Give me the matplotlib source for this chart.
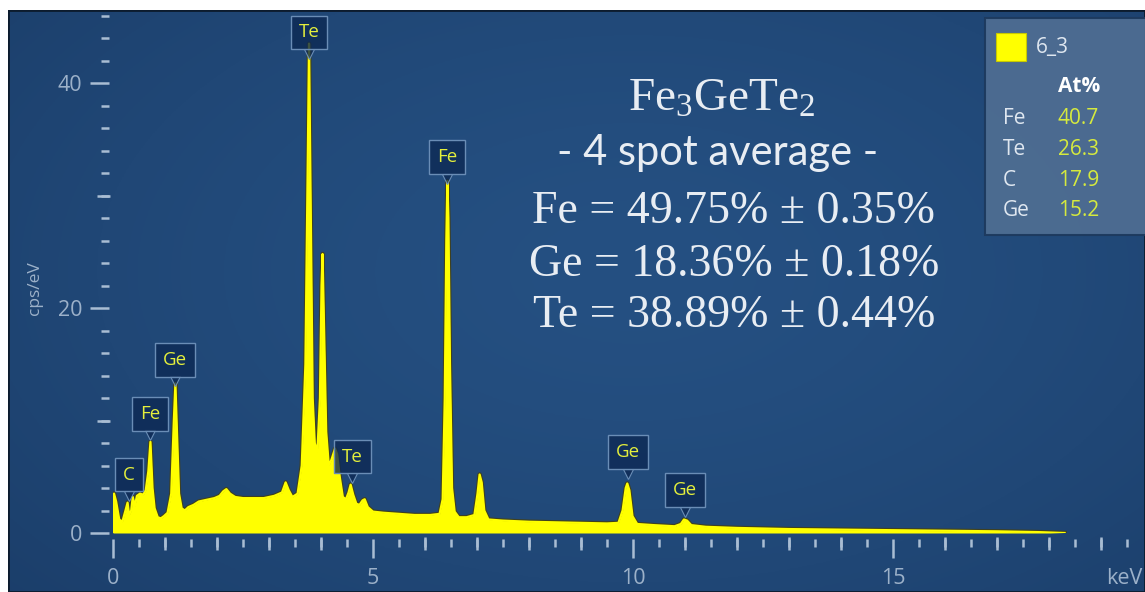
import numpy as np
import matplotlib
matplotlib.use("Agg")
import matplotlib.pyplot as plt
from matplotlib.patches import Rectangle
from matplotlib.ticker import MultipleLocator
from matplotlib.transforms import offset_copy

# ---------------- spectrum data (keV, cps/eV) ----------------
energy = [0.00, 0.02, 0.06, 0.12, 0.18, 0.24, 0.28, 0.31, 0.35, 0.38, 0.42, 0.46,
          0.52, 0.58, 0.63, 0.68, 0.72, 0.76, 0.80, 0.86, 0.92, 0.98, 1.05, 1.12,
          1.17, 1.20, 1.23, 1.27, 1.32, 1.38, 1.45, 1.55, 1.65, 1.75, 1.85, 1.95,
          2.05, 2.12, 2.18, 2.25, 2.35, 2.50, 2.70, 2.90, 3.10, 3.25, 3.32, 3.38,
          3.45, 3.55, 3.63, 3.70, 3.75, 3.77, 3.80, 3.84, 3.88, 3.93, 3.98, 4.01,
          4.03, 4.06, 4.10, 4.15, 4.20, 4.27, 4.31, 4.36, 4.42, 4.48, 4.53, 4.57,
          4.62, 4.68, 4.74, 4.80, 4.84, 4.90, 5.00, 5.20, 5.50, 5.80, 6.10, 6.28,
          6.34, 6.38, 6.41, 6.43, 6.45, 6.48, 6.52, 6.57, 6.65, 6.80, 6.95, 7.01,
          7.05, 7.09, 7.14, 7.22, 7.50, 8.00, 8.50, 9.00, 9.50, 9.72, 9.80, 9.86,
          9.89, 9.93, 9.99, 10.08, 10.40, 10.80, 10.92, 10.98, 11.04, 11.12, 11.40,
          12.00, 13.00, 14.00, 15.00, 16.00, 17.00, 17.80, 18.30]
counts = [0.0, 3.5, 2.8, 1.2, 1.0, 2.0, 2.7, 1.6, 2.0, 3.2, 2.4, 3.3,
          3.5, 3.4, 3.8, 5.5, 8.1, 4.0, 2.2, 1.4, 1.3, 1.5, 1.8, 3.5,
          10.0, 13.3, 9.0, 3.5, 2.2, 2.0, 2.3, 2.5, 2.8, 2.9, 3.0, 3.1,
          3.3, 3.7, 3.9, 3.5, 3.2, 3.1, 3.1, 3.1, 3.3, 3.6, 4.5, 3.8,
          3.2, 3.5, 6.0, 15.0, 35.0, 43.5, 30.0, 12.0, 8.0, 7.2, 12.0, 22.0,
          24.8, 18.0, 9.0, 6.0, 6.5, 7.5, 7.0, 5.0, 3.2, 3.0, 3.6, 4.3,
          3.4, 2.6, 2.5, 2.9, 3.0, 2.3, 1.9, 1.8, 1.7, 1.6, 1.6, 1.7,
          3.0, 12.0, 26.0, 31.3, 28.0, 15.0, 4.0, 1.9, 1.4, 1.4, 1.6, 3.5,
          5.2, 4.5, 2.0, 1.2, 1.1, 1.0, 0.95, 0.9, 0.85, 0.9, 2.0, 4.0,
          4.4, 3.8, 1.5, 0.8, 0.7, 0.6, 0.8, 1.2, 1.1, 0.7, 0.55,
          0.45, 0.35, 0.3, 0.25, 0.2, 0.15, 0.08, 0.0]

# peak markers: element, label x (keV), label centre height (cps/eV)
peak_elements = ["C", "Fe", "Ge", "Te", "Te", "Fe", "Ge", "Ge"]
peak_x = [0.31, 0.71, 1.19, 3.77, 4.60, 6.42, 9.90, 11.00]
peak_label_y = [5.2, 10.6, 15.4, 44.5, 6.8, 33.4, 7.2, 3.8]

# quantification table
quant_elements = ["Fe", "Te", "C", "Ge"]
quant_at_pct = ["40.7", "26.3", "17.9", "15.2"]
spectrum_name = "6_3"

# averaged composition text
formula = r"$\mathrm{Fe_3GeTe_2}$"
subtitle = "- 4 spot average -"
avg_lines = ["Fe = 49.75% \u00b1 0.35%",
             "Ge = 18.36% \u00b1 0.18%",
             "Te = 38.89% \u00b1 0.44%"]

# ---------------- figure ----------------
W, H = 1145, 592
plt.rcParams["mathtext.fontset"] = "custom"
plt.rcParams["mathtext.rm"] = "Liberation Serif"
fig = plt.figure(figsize=(W / 100, H / 100), dpi=100)
fig.patch.set_facecolor("white")


def fx(px):
    return px / W


def fy(py):
    return 1 - py / H


# panel background with a soft radial shade
bg = fig.add_axes([fx(8), 0, 1 - fx(8), 1 - 10 / H])
bg.set_axis_off()
yy, xx = np.mgrid[0:1:240j, 0:1:480j]
r = np.clip(np.sqrt(((xx - 0.55) / 0.75) ** 2 + ((yy - 0.45) / 0.85) ** 2), 0, 1)
c_mid = np.array([0x25, 0x50, 0x82]) / 255
c_edge = np.array([0x1b, 0x3e, 0x6a]) / 255
img = c_mid + (c_edge - c_mid) * r[..., None] ** 1.5
bg.imshow(img, aspect="auto", extent=[0, 1, 0, 1], origin="upper")
bg.set_xlim(0, 1)
bg.set_ylim(0, 1)
bg.add_patch(Rectangle((0, 0), 1, 1, transform=bg.transAxes, fill=False,
                       ec="#0c1b2d", lw=2.0))

# spectrum axes
ax = fig.add_axes([fx(113), fy(533), 1 - fx(113), (533 - 11) / H])
ax.patch.set_alpha(0)
ax.set_xlim(0, (W - 113) / 52.0)
ax.set_ylim(0, (533 - 11) / 11.25)
for s in ax.spines.values():
    s.set_visible(False)
ax.spines["bottom"].set_position(("outward", 4))
ax.spines["left"].set_position(("outward", 3))

# dark rim beneath, yellow fill and a yellow stroke on top
ax.plot(energy, counts, color="#3f4120", lw=3.2, zorder=1.5,
        solid_joinstyle="round")
ax.fill_between(energy, counts, 0, color="#ffff00", lw=0, zorder=2)
ax.plot(energy, counts, color="#ffff00", lw=1.6, zorder=3,
        solid_joinstyle="round")

tick_c = "#a9bdd3"
lab_c = "#9cb1c9"
ax.xaxis.set_major_locator(MultipleLocator(5))
ax.xaxis.set_minor_locator(MultipleLocator(0.5))
ax.yaxis.set_major_locator(MultipleLocator(20))
ax.yaxis.set_minor_locator(MultipleLocator(2))
ax.tick_params(which="major", length=14, width=1.8, color=tick_c,
               labelcolor=lab_c, labelsize=15.5)
ax.tick_params(which="minor", length=6, width=1.8, color=tick_c)
ax.tick_params(axis="x", which="major", pad=7)
ax.tick_params(axis="y", which="major", pad=5)
for lab in ax.get_xticklabels() + ax.get_yticklabels():
    lab.set_fontfamily("Open Sans")

# intermediate ticks (every 1 keV and every 10 cps/eV)
secx = ax.secondary_xaxis(-4 / 522)
secx.set_xticks([v for v in range(1, 20) if v % 5])
secx.tick_params(length=9.5, width=1.8, color=tick_c, labelbottom=False)
secx.spines["bottom"].set_visible(False)
secy = ax.secondary_yaxis(-3 / 1032)
secy.set_yticks([10, 30])
secy.tick_params(length=9.5, width=1.8, color=tick_c, labelleft=False)
secy.spines["left"].set_visible(False)

fig.text(fx(1143), fy(578), "keV", color=lab_c, fontsize=15.5,
         family="Open Sans", ha="right", va="center")
fig.text(fx(35), fy(288), "cps/eV", color=lab_c, fontsize=12.5,
         family="Open Sans", rotation=90, ha="center", va="center")

# peak identification tags
box_fc = (0.05, 0.16, 0.33, 0.8)
box_ec = "#6a8db6"
tri_trans = offset_copy(ax.transData, fig=fig, x=0, y=-15.5, units="points")
for el, px_, py_ in zip(peak_elements, peak_x, peak_label_y):
    ax.plot([px_], [py_], marker="v", ms=7, mfc=box_fc, mec=box_ec, mew=0.8,
            transform=tri_trans, zorder=5, clip_on=False)
    ax.text(px_, py_, el, ha="center", va="center", color="#e4ef3c",
            fontsize=13.5, family="Open Sans", zorder=6,
            bbox=dict(boxstyle="square,pad=0.42", fc=box_fc, ec=box_ec, lw=1.0))

# composition text
txt_c = "#e8edf3"
fig.text(fx(722), fy(98), formula, color=txt_c, fontsize=34,
         ha="center", va="center")
fig.text(fx(718), fy(153), subtitle, color=txt_c, fontsize=30,
         family="Lato", ha="center", va="center")
for line, ypx in zip(avg_lines, [212, 265, 316]):
    fig.text(fx(734), fy(ypx), line, color=txt_c, fontsize=33,
             family="Liberation Serif", ha="center", va="center")

# quantification panel
fig.patches.append(Rectangle((fx(985), fy(235)), 1 - fx(985) + 0.01, (235 - 18) / H,
                             transform=fig.transFigure, fc="#4e6d92", ec="#1d3a5e",
                             lw=1.5, alpha=0.95, zorder=10))
fig.patches.append(Rectangle((fx(996), fy(61)), 30 / W, 28 / H,
                             transform=fig.transFigure, fc="#ffff00", ec="#c8c800",
                             lw=0.8, zorder=11))
fig.text(fx(1036), fy(48), spectrum_name, color="#dfe7f0", fontsize=15,
         family="Open Sans", ha="left", va="center", zorder=12)
fig.text(fx(1058), fy(87), "At%", color="white", fontsize=15, weight="bold",
         family="Open Sans", ha="left", va="center", zorder=12)
for el, val, ypx in zip(quant_elements, quant_at_pct, [118, 149, 180, 211]):
    fig.text(fx(1003), fy(ypx), el, color="#dfe7f0", fontsize=15,
             family="Open Sans", ha="left", va="center", zorder=12)
    fig.text(fx(1058), fy(ypx), val, color="#d6ea3e", fontsize=15,
             family="Open Sans", ha="left", va="center", zorder=12)

fig.savefig("out.png", dpi=100)
